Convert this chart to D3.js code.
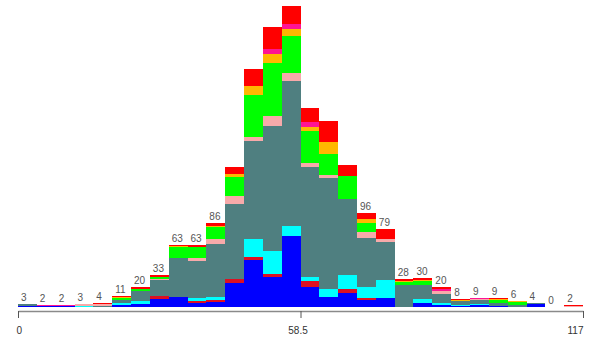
<!DOCTYPE html>
<html>
<head>
<meta charset="utf-8">
<script src="https://cdn.jsdelivr.net/npm/d3@7"></script>
<style>
    body { margin: 0; background: #fff; }
    svg { display: block; font-family: "Liberation Sans", Arial, sans-serif; }
    .bar-label { font-size: 10px; fill: #555; }
    .tick-label { font-size: 10px; fill: #333; }
</style>
</head>
<body>
<div id="chart"></div>
<script>
// 30 bins of width 3.9 over 0..117
var binStart = 0,
    binEnd = 117,
    binCount = 30;

var tickValues = [0, 58.5, 117],
    tickLabels = ['0', '58.5', '117'];

// series stacked bottom to top
var seriesKeys = ['blue', 'darkred', 'cyan', 'slate', 'pink', 'green', 'orange', 'magenta', 'red'];

var blueVals    = [1, 1, 1, 0, 0, 2, 3, 8, 10, 4, 5, 24, 48, 31, 72, 20, 10, 14, 7, 9, 0, 4, 2, 1, 2, 1, 0, 3, 0, 0];
var darkredVals = [0, 0, 0, 0, 0, 0, 0, 3, 0, 2, 2, 5, 3, 3, 0, 6, 0, 4, 2, 0, 0, 0, 0, 0, 0, 0, 0, 0, 0, 0];
var cyanVals    = [0, 0, 0, 1, 0, 2, 3, 0, 0, 3, 3, 0, 18, 23, 10, 5, 8, 15, 11, 18, 0, 4, 2, 1, 1, 0, 0, 0, 0, 0];
var slateVals   = [2, 0, 0, 0, 1, 3, 10, 16, 40, 38, 54, 76, 100, 127, 148, 112, 113, 77, 50, 39, 22, 14, 9, 4, 4, 3, 2, 1, 0, 0];
var pinkVals    = [0, 0, 0, 2, 2, 0, 0, 1, 0, 3, 5, 8, 4, 10, 8, 4, 3, 0, 6, 3, 0, 0, 3, 0, 1, 0, 0, 0, 0, 1];
var greenVals   = [0, 0, 0, 0, 0, 2, 2, 3, 11, 11, 12, 19, 43, 54, 38, 32, 22, 23, 10, 0, 3, 4, 0, 0, 0, 3, 3, 0, 0, 0];
var orangeVals  = [0, 0, 0, 0, 0, 1, 0, 0, 1, 0, 1, 3, 9, 10, 7, 4, 12, 0, 4, 0, 1, 1, 0, 1, 0, 1, 1, 0, 0, 0];
var magentaVals = [0, 1, 1, 0, 0, 0, 0, 0, 0, 0, 0, 0, 0, 5, 5, 5, 0, 0, 0, 0, 0, 0, 2, 0, 1, 0, 0, 0, 0, 0];
var redVals     = [0, 0, 0, 0, 1, 1, 2, 2, 1, 2, 4, 8, 17, 22, 18, 15, 21, 12, 6, 10, 2, 3, 2, 1, 0, 1, 0, 0, 0, 1];

var seriesColors = {
    blue: '#0000ff',
    darkred: '#dd1022',
    cyan: '#00ffff',
    slate: '#4f7f80',
    pink: '#f7aaaa',
    green: '#00ff00',
    orange: '#ffb800',
    magenta: '#ff1493',
    red: '#ff0000'
};

// counts above this are not labelled in the original
var labelLimit = 100;

var width = 589,
    height = 342,
    margin = { left: 18, right: 6, top: 0, baseline: 307, axis: 311 };

var valueLists = [blueVals, darkredVals, cyanVals, slateVals, pinkVals, greenVals, orangeVals, magentaVals, redVals];
var binWidth = (binEnd - binStart) / binCount;

var rows = d3.range(binCount).map(function (i) {
    var row = { x0: binStart + i * binWidth, x1: binStart + (i + 1) * binWidth };
    seriesKeys.forEach(function (k, j) { row[k] = valueLists[j][i]; });
    row.total = d3.sum(valueLists, function (v) { return v[i]; });
    return row;
});

var xScale = d3.scaleLinear()
    .domain([binStart, binEnd])
    .range([margin.left, width - margin.right]);

var yScale = d3.scaleLinear()
    .domain([0, 312.5])
    .range([margin.baseline, 0]);

var stacked = d3.stack().keys(seriesKeys)(rows);

var svg = d3.select('#chart').append('svg')
    .attr('width', width)
    .attr('height', height);

svg.append('g')
    .attr('shape-rendering', 'crispEdges')
    .selectAll('g')
    .data(stacked)
    .enter().append('g')
    .attr('fill', function (s) { return seriesColors[s.key]; })
    .selectAll('rect')
    .data(function (s) { return s; })
    .enter().append('rect')
    .attr('x', function (d) { return Math.round(xScale(d.data.x0)); })
    .attr('width', function (d) { return Math.round(xScale(d.data.x1)) - Math.round(xScale(d.data.x0)); })
    .attr('y', function (d) { return Math.round(yScale(d[1])); })
    .attr('height', function (d) { return Math.round(yScale(d[0])) - Math.round(yScale(d[1])); });

svg.append('g').selectAll('text')
    .data(rows.filter(function (d) { return d.total < labelLimit; }))
    .enter().append('text')
    .attr('class', 'bar-label')
    .attr('x', function (d) { return xScale(d.x0) + 3; })
    .attr('y', function (d) { return yScale(d.total) - 3; })
    .text(function (d) { return d.total; });

// axis
var xAxis = d3.axisBottom(xScale)
    .tickValues(tickValues)
    .tickSize(7)
    .tickSizeOuter(0)
    .tickFormat(function (d, i) { return tickLabels[i]; });

var axisG = svg.append('g')
    .attr('transform', 'translate(0,' + margin.axis + ')')
    .call(xAxis);

axisG.select('.domain').attr('stroke', '#8a8a8a').attr('stroke-width', 1.5);
axisG.selectAll('.tick line').attr('stroke', '#555');
axisG.selectAll('.tick text')
    .attr('class', 'tick-label')
    .attr('font-family', null)
    .attr('font-size', null)
    .attr('dy', '1.25em')
    .attr('text-anchor', function (d, i) {
        return i === 0 ? 'start' : (i === tickValues.length - 1 ? 'end' : 'middle');
    })
    .attr('dx', function (d, i) {
        return i === 0 ? -2 : (i === tickValues.length - 1 ? 0 : -3);
    });
</script>
</body>
</html>
